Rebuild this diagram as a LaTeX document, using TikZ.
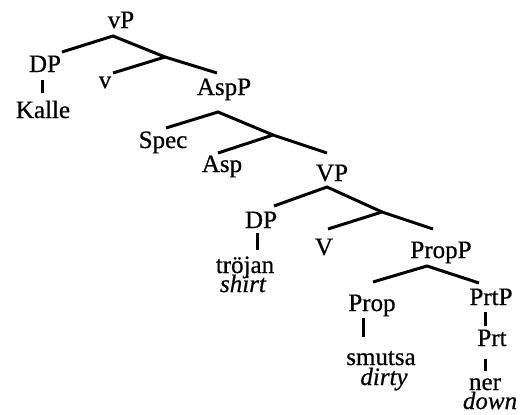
\documentclass[tikz,border=0pt]{standalone}
\usepackage{fontspec}
\setmainfont{Liberation Serif}[UprightFeatures={FakeBold=0.6},ItalicFeatures={FakeBold=0.6}]
\begin{document}
\begin{tikzpicture}[x=1pt,y=-1pt,
  lbl/.style={anchor=base, inner sep=0pt, font=\fontsize{25}{28}\selectfont},
  gloss/.style={lbl, font=\fontsize{25}{28}\selectfont\itshape},
  branch/.style={line width=3pt}]
\useasboundingbox (0,0) rectangle (520,415);

% Labels
\node[lbl] (vP) at (121,28) {vP};
\node[lbl] (DPa) at (45,72) {DP};
\node[lbl] (Kalle) at (43,118) {Kalle};
\node[lbl] (v) at (105,88) {v};
\node[lbl] (AspP) at (224,95) {AspP};
\node[lbl] (Spec) at (163,148) {Spec};
\node[lbl] (Asp) at (222,172) {Asp};
\node[lbl] (VP) at (332,181) {VP};
\node[lbl] (DPb) at (261,228) {DP};
\node[lbl] (troejan) at (245,273) {tröjan};
\node[gloss] (shirt) at (243,292) {shirt};
\node[lbl] (V) at (324,255) {V};
\node[lbl] (PropP) at (441,258) {PropP};
\node[lbl] (Prop) at (372,311) {Prop};
\node[lbl] (PrtP) at (491,305) {PrtP};
\node[lbl] (smutsa) at (381,365) {smutsa};
\node[gloss] (dirty) at (384,385) {dirty};
\node[lbl] (Prt) at (492,346) {Prt};
\node[lbl] (ner) at (485,390) {ner};
\node[gloss] (down) at (490,409) {down};

% Branch points
\coordinate (vPtop) at (113,36);
\coordinate (vbar) at (165,57);
\coordinate (DPaup) at (62,52);
\coordinate (vup) at (113,73);
\coordinate (AspPup) at (217,73);
\coordinate (DPadown) at (42,80);
\coordinate (Kalleup) at (42,93);

\coordinate (AspPtop) at (218,112);
\coordinate (Aspbar) at (273,135);
\coordinate (Specup) at (166,128);
\coordinate (Aspup) at (218,153);
\coordinate (VPup) at (327,153);

\coordinate (VPtop) at (327,187);
\coordinate (Vbar) at (382,212);
\coordinate (DPbup) at (274,206);
\coordinate (Vup) at (328,229);
\coordinate (PropPup) at (433,229);
\coordinate (DPbdown) at (257,233);
\coordinate (troejanup) at (257,250);

\coordinate (PropPtop) at (427,266);
\coordinate (Propup) at (373,282);
\coordinate (PrtPup) at (479,283);
\coordinate (Propdown) at (363,318);
\coordinate (smutsaup) at (363,337);
\coordinate (PrtPdown) at (485,312);
\coordinate (Prtup) at (485,326);
\coordinate (Prtdown) at (485,359);
\coordinate (nerup) at (485,371);

% Branches
\draw[branch] (DPaup) -- (vPtop) -- (vbar);
\draw[branch] (vup) -- (vbar) -- (AspPup);
\draw[branch] (DPadown) -- (Kalleup);
\draw[branch] (Specup) -- (AspPtop) -- (Aspbar);
\draw[branch] (Aspup) -- (Aspbar) -- (VPup);
\draw[branch] (DPbup) -- (VPtop) -- (Vbar);
\draw[branch] (Vup) -- (Vbar) -- (PropPup);
\draw[branch] (DPbdown) -- (troejanup);
\draw[branch] (Propup) -- (PropPtop) -- (PrtPup);
\draw[branch] (Propdown) -- (smutsaup);
\draw[branch] (PrtPdown) -- (Prtup);
\draw[branch] (Prtdown) -- (nerup);
\end{tikzpicture}
\end{document}
